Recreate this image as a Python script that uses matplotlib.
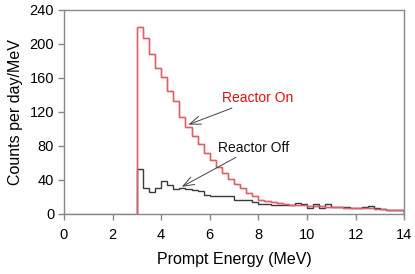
import matplotlib
matplotlib.use("Agg")
import matplotlib.pyplot as plt
import numpy as np

plt.rcParams['font.family'] = ['Liberation Sans', 'DejaVu Sans']

# bin left edges (MeV), 0.25 MeV bins from 3 to 14
edges = np.arange(3.0, 14.0001, 0.25)
reactor_on = [220, 207, 188, 172, 161, 145, 133, 114, 102, 92, 82, 72,
              63, 55, 48, 41, 35, 30, 25, 21, 17, 15, 14, 13,
              12, 11, 11, 10, 9, 9, 9, 8, 8, 8, 7, 7,
              7, 7, 7, 6, 6, 5, 5, 5]
reactor_off = [53, 30, 26, 30, 39, 34, 29, 31, 29, 28, 27, 22,
               21, 21, 21, 21, 16, 16, 17, 14, 12, 12, 11, 11,
               10, 10, 13, 12, 7, 12, 7, 12, 8, 8, 8, 7,
               7, 8, 9, 7, 6, 5, 5, 5]

fig = plt.figure(figsize=(4.15, 2.74), dpi=100)
ax = fig.add_axes([0.154, 0.219, 0.82, 0.745])

red = '#e0606a'
# red trace runs along zero below threshold
x_on = np.concatenate(([0.0], edges))
ax.stairs(np.concatenate(([0.0], reactor_on)), x_on, color=red, lw=1.0)
ax.stairs(reactor_off, edges, color='#3a3a3a', lw=1.0)
ax.stairs(reactor_on, edges, color=red, lw=1.0)

ax.set_xlim(0, 14)
ax.set_ylim(0, 240)
ax.set_xticks(np.arange(0, 15, 2))
ax.set_yticks(np.arange(0, 241, 40))
for s in ax.spines.values():
    s.set_color('#888888')
    s.set_linewidth(1.0)
ax.tick_params(direction='out', length=4, width=1, color='#888888',
               labelsize=10.5, pad=3)
ax.tick_params(axis='x', pad=6)
ax.set_xlabel('Prompt Energy (MeV)', fontsize=11.5, labelpad=7)
ax.set_ylabel('Counts per day/MeV', fontsize=11.5, labelpad=5)

arrow = dict(arrowstyle='->,head_length=0.8,head_width=0.3', color='#444444',
             lw=0.7, shrinkA=0, shrinkB=0)
ax.annotate('Reactor On', xy=(5.12, 105), xytext=(6.5, 136),
            fontsize=10, color='#dd1111', va='center', ha='left',
            arrowprops=arrow)
ax.annotate('Reactor Off', xy=(4.85, 32), xytext=(6.35, 78),
            fontsize=10, color='#111111', va='center', ha='left',
            arrowprops=arrow)

fig.savefig('out.png', dpi=100)
